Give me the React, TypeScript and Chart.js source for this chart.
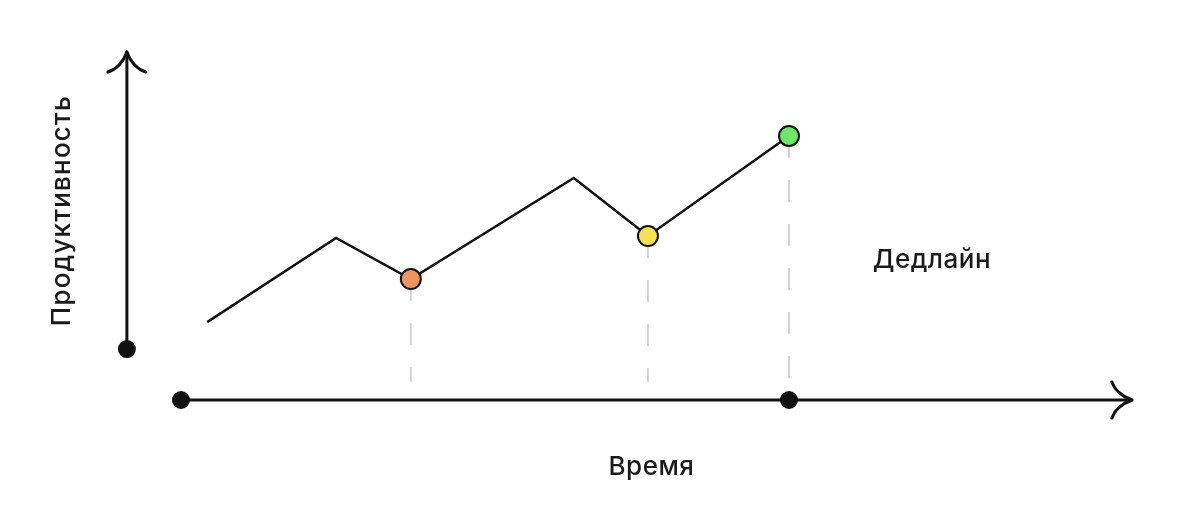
import React, { useEffect, useRef } from "react";
import { Chart, registerables } from "chart.js";

Chart.register(...registerables);

// Time (x) and productivity (y) values
const timeValues = [0.43, 2.55, 3.78, 6.46, 7.68, 10];
const productivityValues = [2.95, 6.14, 4.58, 8.41, 6.21, 10];
// Highlighted checkpoints (marker colour per point, null = no marker)
const markerColors: (string | null)[] = [null, null, "#EE945F", null, "#F6E154", "#6FE66A"];
const dropIndices = [2, 4, 5];
const dropBottom = 0.68;

// Axis extents (in data units)
const xAxisStart = 0;
const xAxisEnd = 15.64;
const yAxisX = -0.89;
const yAxisStart = 1.93;
const yAxisEnd = 13.18;
const deadlineTime = 10;

// Scale ranges
const xMin = -2.977;
const xMax = 16.76;
const yMin = -4.508;
const yMax = 15.152;

const xTitle = "Время";
const yTitle = "Продуктивность";
const deadlineLabel = "Дедлайн";
const deadlineLabelPos = { x: 12.35, y: 5.3 };

const INK = "#111111";
const FONT = "Inter, 'Noto Sans', sans-serif";

const axesPlugin = {
  id: "diagramAxes",
  beforeDatasetsDraw(chart: any) {
    const { ctx, scales } = chart;
    const xs = scales.x;
    const ys = scales.y;
    const px = (v: number) => xs.getPixelForValue(v);
    const py = (v: number) => ys.getPixelForValue(v);
    ctx.save();
    ctx.strokeStyle = INK;
    ctx.fillStyle = INK;
    ctx.lineWidth = 3;
    ctx.lineCap = "round";
    ctx.lineJoin = "round";

    // Y axis
    const yx = px(yAxisX);
    const yTop = py(yAxisEnd);
    const yBot = py(yAxisStart);
    ctx.beginPath();
    ctx.moveTo(yx, yBot);
    ctx.lineTo(yx, yTop);
    ctx.stroke();
    ctx.beginPath();
    ctx.moveTo(yx, yTop);
    ctx.quadraticCurveTo(yx - 6, yTop + 16, yx - 19, yTop + 20);
    ctx.moveTo(yx, yTop);
    ctx.quadraticCurveTo(yx + 6, yTop + 16, yx + 19, yTop + 20);
    ctx.stroke();
    ctx.beginPath();
    ctx.arc(yx, yBot, 9, 0, Math.PI * 2);
    ctx.fill();

    // X axis
    const xy = py(0);
    const xL = px(xAxisStart);
    const xR = px(xAxisEnd);
    ctx.beginPath();
    ctx.moveTo(xL, xy);
    ctx.lineTo(xR, xy);
    ctx.stroke();
    ctx.beginPath();
    ctx.moveTo(xR, xy);
    ctx.quadraticCurveTo(xR - 16, xy - 6, xR - 20, xy - 18);
    ctx.moveTo(xR, xy);
    ctx.quadraticCurveTo(xR - 16, xy + 6, xR - 20, xy + 18);
    ctx.stroke();
    ctx.beginPath();
    ctx.arc(xL, xy, 9, 0, Math.PI * 2);
    ctx.fill();
    ctx.beginPath();
    ctx.arc(px(deadlineTime), xy, 9, 0, Math.PI * 2);
    ctx.fill();

    // Texts
    ctx.fillStyle = "#1a1a1a";
    ctx.textAlign = "center";
    ctx.textBaseline = "middle";
    ctx.font = `500 26px ${FONT}`;
    ctx.letterSpacing = "0.5px";
    ctx.fillText(xTitle, (xL + xR) / 2 - 5, xy + 67);
    ctx.fillText(deadlineLabel, px(deadlineLabelPos.x), py(deadlineLabelPos.y));
    ctx.save();
    ctx.translate(yx - 65, (yTop + yBot) / 2 + 10);
    ctx.rotate(-Math.PI / 2);
    ctx.font = `500 26px ${FONT}`;
    ctx.letterSpacing = "1.2px";
    ctx.fillText(yTitle, 0, 0);
    ctx.restore();
    ctx.restore();
  },
};

export default function App() {
  const ref = useRef<HTMLCanvasElement>(null);
  useEffect(() => {
    if (!ref.current) return;
    const linePoints = timeValues.map((t, i) => ({ x: t, y: productivityValues[i] }));
    const dropSets = dropIndices.map((i) => ({
      data: [
        { x: timeValues[i], y: productivityValues[i] },
        { x: timeValues[i], y: dropBottom },
      ],
      showLine: true,
      borderColor: "#d4d4d4",
      borderWidth: 2,
      borderDash: [22, 22],
      pointRadius: 0,
      fill: false,
    }));
    const chart = new Chart(ref.current, {
      type: "scatter",
      data: {
        datasets: [
          {
            data: linePoints,
            showLine: true,
            borderColor: INK,
            borderWidth: 2.5,
            tension: 0,
            pointRadius: markerColors.map((c) => (c ? 10 : 0)),
            pointBackgroundColor: markerColors.map((c) => c || "transparent"),
            pointBorderColor: INK,
            pointBorderWidth: 2,
            fill: false,
          } as any,
          ...dropSets,
        ],
      },
      options: {
        animation: false,
        responsive: true,
        maintainAspectRatio: false,
        layout: { padding: 0, autoPadding: false } as any,
        clip: false as any,
        plugins: { legend: { display: false }, tooltip: { enabled: false } },
        events: [],
        scales: {
          x: { type: "linear", min: xMin, max: xMax, display: false },
          y: { type: "linear", min: yMin, max: yMax, display: false },
        },
      },
      plugins: [axesPlugin],
    });
    return () => chart.destroy();
  }, []);
  return (
    <div style={{ position: "fixed", left: 0, top: 0, width: 1200, height: 519, background: "#fff" }}>
      <canvas ref={ref} />
    </div>
  );
}
